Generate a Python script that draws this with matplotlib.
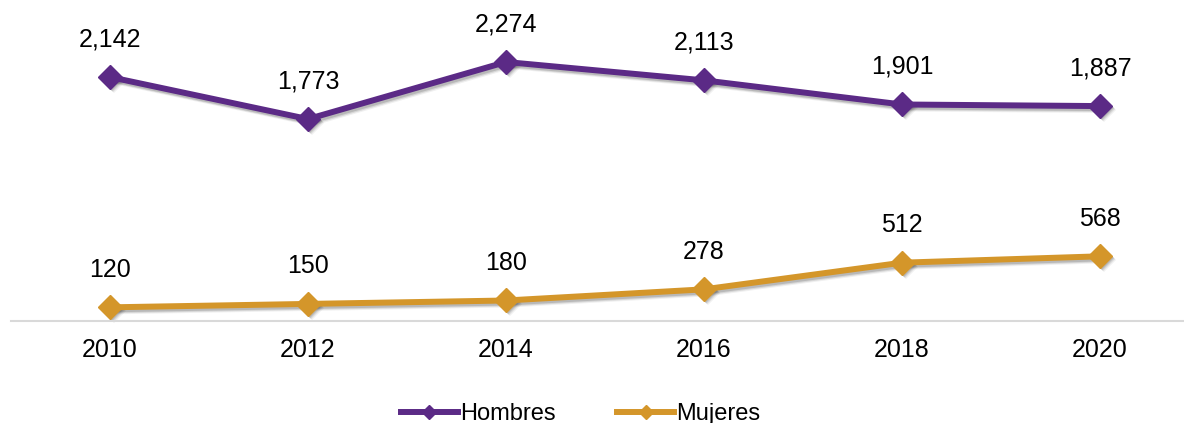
import matplotlib
matplotlib.use("Agg")
import matplotlib.pyplot as plt
import matplotlib.transforms as mtransforms
from matplotlib.lines import Line2D

years = ["2010", "2012", "2014", "2016", "2018", "2020"]
hombres = [2142, 1773, 2274, 2113, 1901, 1887]
mujeres = [120, 150, 180, 278, 512, 568]

purple = "#5B2A86"
gold = "#D4962A"

plt.rcParams['font.family'] = ['Liberation Sans', 'DejaVu Sans']

W, H = 1184, 423
fig = plt.figure(figsize=(W / 100, H / 100), dpi=100)
left, right, top, bottom = 11, 1184, 10, 321
ax = fig.add_axes([left / W, (H - bottom) / H, (right - left) / W, (bottom - top) / H])

x = list(range(len(years)))

for vals, col in [(hombres, purple), (mujeres, gold)]:
    # soft shadow layers
    for off, a in [(4, 0.06), (3, 0.10), (2, 0.14)]:
        tr = ax.transData + mtransforms.ScaledTranslation(off / 100, -off / 100, fig.dpi_scale_trans)
        ax.plot(x, vals, color='black', alpha=a, lw=4.3, marker='D', markersize=12.5,
                markeredgewidth=0, transform=tr, zorder=2, clip_on=False)
    ax.plot(x, vals, color=col, lw=4.3, marker='D', markersize=12.5,
            markeredgecolor=col, zorder=3, clip_on=False)
    for xi, v in zip(x, vals):
        ax.annotate(f"{v:,}", (xi, v), xytext=(0, 27), textcoords='offset points',
                    ha='center', va='center', fontsize=18, color='black')

ax.set_xlim(-0.5, (1184 - 110) / 198)
ax.set_ylim(0, 2274 * (bottom - top) / (bottom - 62))
ax.set_xticks(x)
ax.set_xticklabels(years, fontsize=18)
ax.tick_params(axis='x', length=0, pad=12)
ax.set_yticks([])
for s in ['top', 'right', 'left']:
    ax.spines[s].set_visible(False)
ax.spines['bottom'].set_color('#d9d9d9')
ax.spines['bottom'].set_linewidth(1.5)

handles = [
    Line2D([0], [0], color=purple, lw=4.3, marker='D', markersize=7, markeredgecolor=purple),
    Line2D([0], [0], color=gold, lw=4.3, marker='D', markersize=7, markeredgecolor=gold),
]
fig.legend(handles, ["Hombres", "Mujeres"], loc='center', bbox_to_anchor=(0.4905, 1 - 414 / H),
           ncol=2, frameon=False, fontsize=17, handlelength=2.4, handletextpad=0.1,
           columnspacing=2.6)

fig.savefig("out.png", dpi=100)
